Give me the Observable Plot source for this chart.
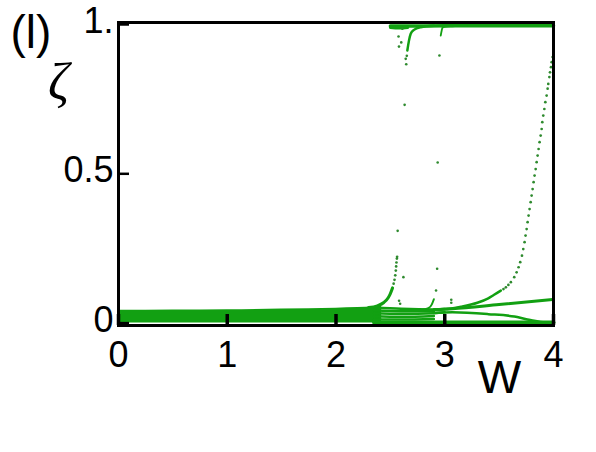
<!DOCTYPE html>
<html>
<head>
<meta charset="utf-8">
<script src="https://cdn.jsdelivr.net/npm/d3@7"></script>
<script src="https://cdn.jsdelivr.net/npm/@observablehq/plot@0.6"></script>
<style>
  html, body { margin: 0; padding: 0; background: white; }
</style>
</head>
<body>
<div id="chart"></div>
<script>
const GREEN = "#12a012";

// Tick values / labels
const xTicks = [0, 1, 2, 3, 4];
const yTicks = [0, 0.5, 1];
const yTickLabels = ["0", "0.5", "1."];

// Dense band near zero, W = 0 .. 2.42
const bandW  = [0, 0.5, 1.0, 1.5, 2.0, 2.2, 2.35, 2.42];
const bandHi = [0.043, 0.044, 0.045, 0.047, 0.050, 0.052, 0.055, 0.058];
const bandLo = [0, 0, 0, 0, 0, 0, 0, 0];

// Fan of branches leaving the band
const fan1W = [2.35, 2.6, 2.9, 3.0];   const fan1Z = [0.052, 0.048, 0.046, 0.047];
const fan2W = [2.35, 2.6, 2.9];        const fan2Z = [0.043, 0.040, 0.040];
const fan3W = [2.35, 2.6, 2.9, 3.0];   const fan3Z = [0.033, 0.031, 0.033, 0.036];
const fan4W = [2.35, 2.6, 2.9];        const fan4Z = [0.023, 0.021, 0.024];
const fan5W = [2.35, 2.6, 2.9];        const fan5Z = [0.013, 0.012, 0.014];

// Bottom branch along zero
const zeroW = [2.35, 3.0, 3.5, 4.0];
const zeroZ = [0.002, 0.002, 0.002, 0.002];

// Straight rising branch
const lineW = [2.9, 3.07, 3.5, 4.0];
const lineZ = [0.045, 0.048, 0.062, 0.079];

// Lower branch bending down to zero
const lowW = [2.9, 3.07, 3.4, 3.64, 3.75, 3.88, 4.0];
const lowZ = [0.034, 0.036, 0.030, 0.022, 0.013, 0.004, 0.001];

// Rising curve (continuous part)
const curveW = [2.9, 3.0, 3.15, 3.3, 3.4, 3.45, 3.516];
const curveZ = [0.046, 0.047, 0.055, 0.068, 0.083, 0.094, 0.109];

// Rising curve (dotted part)
const riseW = [3.992, 3.983, 3.977, 3.968, 3.962, 3.952, 3.946, 3.937, 3.925, 3.916,
               3.906, 3.897, 3.891, 3.882, 3.872, 3.863, 3.854, 3.845, 3.836, 3.826,
               3.817, 3.808, 3.799, 3.790, 3.780, 3.771, 3.762, 3.753, 3.743, 3.734,
               3.722, 3.710, 3.694, 3.679, 3.661, 3.639, 3.608, 3.585, 3.562, 3.54];
const riseZ = [0.891, 0.874, 0.857, 0.840, 0.824, 0.801, 0.785, 0.762, 0.740, 0.717,
               0.695, 0.673, 0.650, 0.628, 0.606, 0.583, 0.561, 0.539, 0.516, 0.494,
               0.472, 0.449, 0.427, 0.405, 0.382, 0.360, 0.338, 0.315, 0.293, 0.271,
               0.248, 0.226, 0.204, 0.187, 0.170, 0.154, 0.137, 0.128, 0.120, 0.114];

// Steep spike near W = 2.5
const spikeW = [2.30, 2.38, 2.44, 2.48, 2.50, 2.52];
const spikeZ = [0.052, 0.058, 0.069, 0.085, 0.099, 0.118];
const spikeDotW = [2.530, 2.538, 2.545, 2.550, 2.553, 2.556, 2.560, 2.562];
const spikeDotZ = [0.132, 0.145, 0.160, 0.176, 0.190, 0.203, 0.216, 0.222];

// Small spike near W = 2.9
const spike2W = [2.80, 2.85, 2.88, 2.90];
const spike2Z = [0.045, 0.050, 0.062, 0.080];

// Top band near one
const topW = [2.5, 2.8, 3.2, 3.6, 4.0];
const topZ = [0.995, 0.995, 0.996, 0.996, 0.996];
const topThickW = [2.5, 2.58, 2.66];
const topThickZ = [0.99, 0.988, 0.99];

// Branch dropping from the top near W = 2.65
const drop1W = [2.656, 2.671, 2.687, 2.717, 2.779, 2.9];
const drop1Z = [0.913, 0.946, 0.969, 0.982, 0.991, 0.996];
const drop1DotW = [2.641, 2.646, 2.651];
const drop1DotZ = [0.885, 0.867, 0.895];

// Branch dropping from the top near W = 2.97
const drop2W = [2.963, 2.972, 2.979, 3.0, 3.07, 3.2];
const drop2Z = [0.963, 0.980, 0.989, 0.992, 0.994, 0.996];

// Isolated scattered points
const scatW = [2.579, 2.631, 2.610, 2.935, 2.567, 2.951, 2.580, 2.590, 2.620, 3.060, 3.060, 2.920, 2.930, 2.600, 2.575];
const scatZ = [0.926, 0.731, 0.986, 0.538, 0.309, 0.896, 0.075, 0.065, 0.154, 0.078, 0.068, 0.109, 0.182, 0.940, 0.960];

const toRows = (ws, zs) => ws.map((w, i) => ({w, z: zs[i]}));
const band = bandW.map((w, i) => ({w, lo: bandLo[i], hi: bandHi[i]}));

const lineMark = (ws, zs, sw) => Plot.line(toRows(ws, zs), {x: "w", y: "z", stroke: GREEN, strokeWidth: sw, curve: "monotone-x"});
const dotMark = (ws, zs, r) => Plot.dot(toRows(ws, zs), {x: "w", y: "z", fill: "#2e8a2e", r: r, stroke: "none"});

const W = 596, H = 452;
const mL = 118, mR = 43, mT = 22, mB = 127;
const frameW = W - mL - mR, frameH = H - mT - mB;

const chart = Plot.plot({
  width: W,
  height: H,
  marginLeft: mL,
  marginRight: mR,
  marginTop: mT,
  marginBottom: mB,
  x: {domain: [0, 4]},
  y: {domain: [-0.008, 1.0067]},
  style: {fontFamily: "'Liberation Sans', Arial, Helvetica, sans-serif", background: "white", color: "black"},
  marks: [
    Plot.areaY(band, {x: "w", y1: "lo", y2: "hi", fill: GREEN, curve: "monotone-x"}),
    lineMark(fan1W, fan1Z, 2.5),
    lineMark(fan2W, fan2Z, 2.5),
    lineMark(fan3W, fan3Z, 2.5),
    lineMark(fan4W, fan4Z, 2.5),
    lineMark(fan5W, fan5Z, 2.5),
    lineMark(zeroW, zeroZ, 4),
    lineMark(lineW, lineZ, 3),
    lineMark(lowW, lowZ, 2.5),
    lineMark(curveW, curveZ, 2.5),
    dotMark(riseW, riseZ, 1.35),
    lineMark(spikeW, spikeZ, 3),
    dotMark(spikeDotW, spikeDotZ, 1.35),
    lineMark(spike2W, spike2Z, 2),
    lineMark(topW, topZ, 3.5),
    lineMark(topThickW, topThickZ, 3),
    lineMark(drop1W, drop1Z, 2.5),
    dotMark(drop1DotW, drop1DotZ, 1.3),
    lineMark(drop2W, drop2Z, 1.8),
    dotMark(scatW, scatZ, 1.3),
    Plot.frame({stroke: "black", strokeWidth: 3}),
    Plot.tickX(xTicks, {x: d => d, stroke: "black", strokeWidth: 3.5, insetTop: frameH - 11}),
    Plot.tickY(yTicks, {y: d => d, stroke: "black", strokeWidth: 2.5, insetRight: frameW - 11}),
    Plot.axisX({ticks: xTicks, tickSize: 0, tickPadding: 16, fontSize: 36, label: null, tickFormat: d => String(d)}),
    Plot.axisY({ticks: yTicks, tickSize: 0, tickPadding: 5, fontSize: 36, label: null, dy: -3,
                tickFormat: (d, i) => yTickLabels[yTicks.indexOf(d)]}),
    Plot.text(["(l)"], {frameAnchor: "top-left", dx: -108, dy: 11, text: d => d, fontSize: 46, textAnchor: "start", lineAnchor: "middle", fill: "black"}),
    Plot.text(["ζ"], {frameAnchor: "top-left", dx: -60, dy: 60, text: d => d, fontSize: 52, fontStyle: "italic", fontFamily: "'Liberation Serif', 'DejaVu Serif', serif", textAnchor: "middle", lineAnchor: "middle", fill: "black"}),
    Plot.text(["W"], {frameAnchor: "bottom-right", dx: -54, dy: 53, text: d => d, fontSize: 46, textAnchor: "middle", lineAnchor: "middle", fill: "black"})
  ]
});
document.getElementById("chart").appendChild(chart);
</script>
</body>
</html>
